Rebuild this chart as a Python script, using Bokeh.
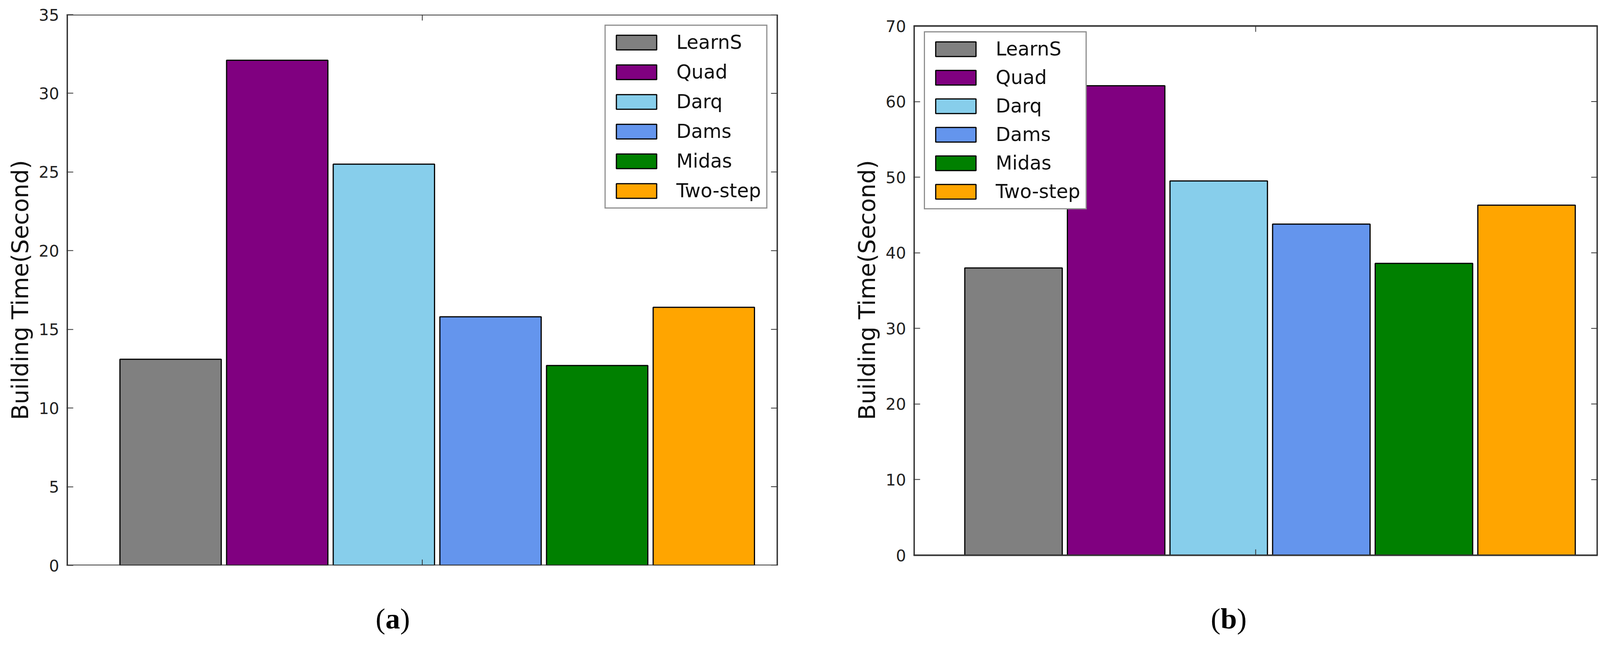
from bokeh.plotting import figure
from bokeh.models import ColumnDataSource, Range1d, FixedTicker, LinearAxis
from bokeh.layouts import row, column
from bokeh.core.properties import value
from bokeh.embed import file_html
from bokeh.resources import INLINE

# ---- data ----
methods = ["LearnS", "Quad", "Darq", "Dams", "Midas", "Two-step"]
colors = ["#808080", "#800080", "#87CEEB", "#6495ED", "#008000", "#FFA500"]
time_a = [13.1, 32.1, 25.5, 15.8, 12.7, 16.4]
time_b = [38.0, 62.1, 49.5, 43.8, 38.6, 46.3]
ticks_a = [0, 5, 10, 15, 20, 25, 30, 35]
ticks_b = [0, 10, 20, 30, 40, 50, 60, 70]
ylabel = "Building Time(Second)"
captions = ["a", "b"]

X_MAX = 6.67
BAR_W = 0.95
SPINE = "#333333"
MAIN_H = 1480
CAP_H = 150
W_A = 2100
W_B = 1994
BT, BB = 37, 33                 # shared frame borders (frames align in a row)
FRAME_H = MAIN_H - BT - BB


def make_panel(values, yticks, width, bl, br, y_lo_px, y_hi_px, legend_loc,
               legend_margin, legend_spacing):
    # y_lo_px / y_hi_px: distance (px) of the first / last tick from the frame bottom / top
    span = yticks[-1] - yticks[0]
    ppu = (FRAME_H - y_lo_px - y_hi_px) / span
    y0 = yticks[0] - y_lo_px / ppu
    y1 = yticks[-1] + y_hi_px / ppu
    xs = [0.5 + BAR_W / 2 + i for i in range(len(methods))]
    src = ColumnDataSource(dict(x=xs, top=values, method=methods, color=colors))
    p = figure(width=width, height=MAIN_H, output_backend="svg", toolbar_location=None,
               x_range=Range1d(0, X_MAX), y_range=Range1d(y0, y1),
               min_border_left=bl, min_border_right=br, min_border_top=BT,
               min_border_bottom=BB, x_axis_location=None, y_axis_location=None)
    p.title = None
    p.xgrid.visible = False
    p.ygrid.visible = False
    p.outline_line_color = None
    p.background_fill_color = "white"
    p.border_fill_color = "white"

    p.vbar(x="x", top="top", width=BAR_W, bottom=yticks[0], source=src,
           fill_color="color", line_color="black", line_width=3,
           legend_field="method")

    # axes box (spines) spanning the tick range
    p.segment(x0=[0, 0], x1=[X_MAX, X_MAX], y0=[yticks[0], yticks[-1]],
              y1=[yticks[0], yticks[-1]], line_color=SPINE, line_width=4)
    p.segment(x0=[0, X_MAX], x1=[0, X_MAX], y0=[yticks[0]] * 2, y1=[yticks[-1]] * 2,
              line_color=SPINE, line_width=7)

    yl = LinearAxis(ticker=FixedTicker(ticks=yticks), axis_label=ylabel)
    yl.axis_line_color = None
    yl.major_tick_in = 17
    yl.major_tick_out = 0
    yl.minor_tick_line_color = None
    yl.major_tick_line_color = SPINE
    yl.major_tick_line_width = 2
    yl.major_label_text_font = "DejaVu Sans"
    yl.major_label_text_font_size = "41px"
    yl.major_label_text_color = "#222222"
    yl.major_label_standoff = 19
    yl.axis_label_text_font = "DejaVu Sans"
    yl.axis_label_text_font_size = "59px"
    yl.axis_label_text_font_style = "normal"
    yl.axis_label_text_color = "#111111"
    yl.axis_label_standoff = 10
    p.add_layout(yl, "left")

    # inward tick marks on the right spine and centre ticks on top/bottom spines
    ylen = 15 / ppu
    p.segment(x0=[X_MAX] * len(yticks), x1=[X_MAX - 0.065] * len(yticks),
              y0=yticks, y1=yticks, line_color=SPINE, line_width=2)
    p.segment(x0=[X_MAX / 2] * 2, x1=[X_MAX / 2] * 2,
              y0=[yticks[0], yticks[-1]], y1=[yticks[0] + ylen, yticks[-1] - ylen],
              line_color=SPINE, line_width=2)

    lg = p.legend[0]
    lg.location = legend_loc
    lg.margin = legend_margin
    lg.padding = 14
    lg.spacing = legend_spacing
    lg.glyph_width = 129
    lg.glyph_height = 47
    lg.label_height = 40
    lg.label_standoff = 38
    lg.label_text_font = "DejaVu Sans"
    lg.label_text_font_size = "49px"
    lg.label_text_color = "#111111"
    lg.border_line_color = "#222222"
    lg.border_line_width = 3
    lg.background_fill_color = "white"
    lg.background_fill_alpha = 1.0
    return p


pa = make_panel(time_a, ticks_a, width=W_A, bl=170, br=W_A - 170 - 1821,
                y_lo_px=0, y_hi_px=0, legend_loc="top_right", legend_margin=26,
                legend_spacing=19)
pb = make_panel(time_b, ticks_b, width=W_B, bl=238, br=W_B - 238 - 1752,
                y_lo_px=26, y_hi_px=29, legend_loc=(27, 911),
                legend_margin=0, legend_spacing=16)

# caption strip, coordinates in page pixels
cap = figure(width=W_A + W_B, height=CAP_H, output_backend="svg", toolbar_location=None,
             x_range=Range1d(0, W_A + W_B), y_range=Range1d(0, CAP_H),
             min_border=0, x_axis_location=None, y_axis_location=None)
cap.title = None
cap.xgrid.visible = False
cap.ygrid.visible = False
cap.outline_line_color = None
cap_x = [1005, 3145]
cap_y = [47, 47]
half = [19, 21]
font = value("Liberation Serif")
for cx, cy, hw, letter in zip(cap_x, cap_y, half, captions):
    cap.text(x=[cx], y=[cy], text=["("], text_align="right", x_offset=-hw,
             text_baseline="middle", text_font=font, text_font_size="75px", text_color="black")
    cap.text(x=[cx], y=[cy], text=[letter], text_align="center", text_font_style="bold",
             text_baseline="middle", text_font=font, text_font_size="75px", text_color="black")
    cap.text(x=[cx], y=[cy], text=[")"], text_align="left", x_offset=hw,
             text_baseline="middle", text_font=font, text_font_size="75px", text_color="black")

layout = column(row(pa, pb), cap)
open("out.html", "w").write(file_html(layout, INLINE))
